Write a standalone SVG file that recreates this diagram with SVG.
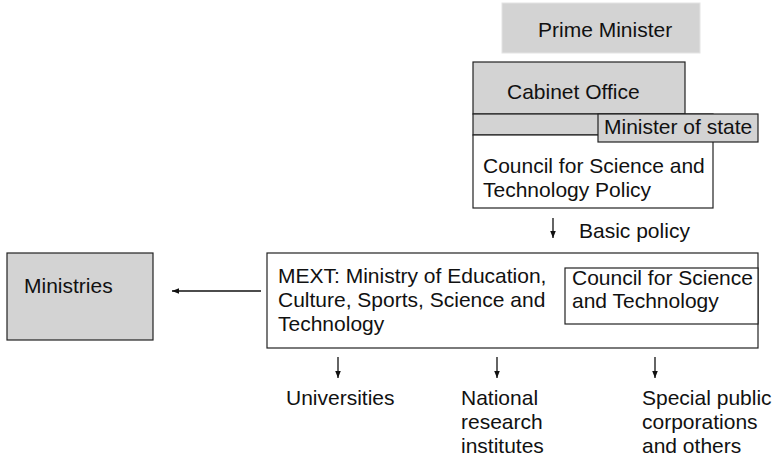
<svg xmlns="http://www.w3.org/2000/svg" width="784" height="463" viewBox="0 0 784 463">
<defs>
<marker id="ah" viewBox="0 0 10 10" refX="10" refY="5" markerWidth="8" markerHeight="7" markerUnits="userSpaceOnUse" orient="auto"><path d="M0,1 L10,5 L0,9 Z" fill="#111"/></marker>
<style>
text{font-family:"Liberation Sans",Arial,sans-serif;font-size:21px;fill:#111}
.g{fill:#d3d3d3;stroke:#222;stroke-width:1.2}
.w{fill:#fff;stroke:#222;stroke-width:1.2}
.c{stroke:#111;stroke-width:1.3;fill:none;marker-end:url(#ah)}
</style>
</defs>
<rect width="784" height="463" fill="#fff"/>
<g id="prime-minister">
<rect x="502" y="3" width="198" height="50" fill="#d3d3d3" stroke="#e4e4e4"/>
<text x="538" y="37">Prime Minister</text>
</g>
<g id="cabinet-office">
<rect class="g" x="473" y="62" width="212" height="52"/>
<text x="507" y="99">Cabinet Office</text>
</g>
<g id="cstp">
<rect class="g" x="473" y="114" width="240" height="21"/>
<rect class="w" x="473" y="135" width="240" height="73"/>
<text x="483" y="173">Council for Science and</text>
<text x="483" y="197">Technology Policy</text>
</g>
<g id="minister-of-state">
<rect class="g" x="598" y="114" width="160" height="28"/>
<text x="604" y="134">Minister of state</text>
</g>
<g id="mext">
<rect class="w" x="267" y="253" width="491" height="95"/>
<text x="278" y="283">MEXT: Ministry of Education,</text>
<text x="278" y="307">Culture, Sports, Science and</text>
<text x="278" y="331">Technology</text>
</g>
<g id="cst">
<rect class="w" x="565" y="268" width="193" height="56"/>
<text x="572" y="285">Council for Science</text>
<text x="572" y="308">and Technology</text>
</g>
<g id="ministries">
<rect class="g" x="7" y="253" width="146" height="87"/>
<text x="24" y="293">Ministries</text>
</g>
<g id="universities"><text x="286" y="405">Universities</text></g>
<g id="national-research-institutes">
<text x="461" y="405">National</text>
<text x="461" y="429">research</text>
<text x="461" y="453">institutes</text>
</g>
<g id="special-public-corporations">
<text x="642" y="405">Special public</text>
<text x="642" y="429">corporations</text>
<text x="642" y="453">and others</text>
</g>
<g id="basic-policy-label"><text x="579" y="238">Basic policy</text></g>
<g id="connectors">
<line class="c" x1="553" y1="218" x2="553" y2="238"/>
<line class="c" x1="261" y1="291" x2="172" y2="291"/>
<line class="c" x1="338" y1="357" x2="338" y2="378"/>
<line class="c" x1="497" y1="357" x2="497" y2="378"/>
<line class="c" x1="655" y1="357" x2="655" y2="378"/>
</g>
</svg>
